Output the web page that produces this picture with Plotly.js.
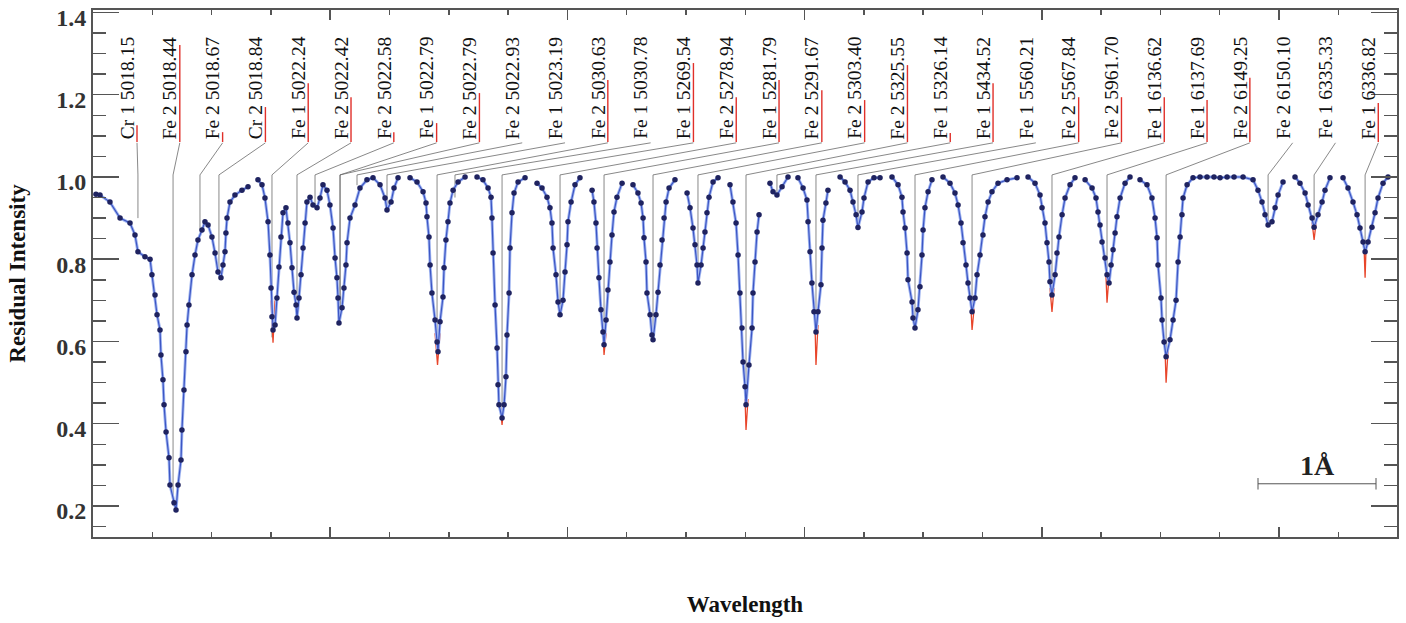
<!DOCTYPE html>
<html><head><meta charset="utf-8">
<script src="https://cdn.plot.ly/plotly-3.0.1.min.js"></script>
<style>html,body{margin:0;padding:0;background:#fff}#chart{width:1406px;height:623px}</style>
</head><body><div id="chart"></div>
<script>
// ---- Observed spectrum segments (x = wavelength offset along the concatenated spectrum, in Å; y = residual intensity)
const seg1X = [0.025,0.059,0.143,0.228,0.312,0.354,0.379,0.438,0.481,0.497,0.523,0.540,0.565,0.573,0.590,0.599,0.616,0.641,0.649,0.683,0.700,0.717,0.742,0.750,0.767,0.784,0.793,0.809,0.835,0.860,0.885,0.919,0.944,0.970,1.003,1.029,1.054,1.079,1.096,1.113,1.121,1.130,1.155,1.197,1.256,1.307];
const seg1Y = [0.958,0.956,0.939,0.900,0.888,0.859,0.818,0.806,0.800,0.762,0.713,0.665,0.628,0.567,0.507,0.446,0.380,0.317,0.251,0.208,0.190,0.251,0.312,0.385,0.482,0.575,0.640,0.689,0.762,0.810,0.847,0.871,0.891,0.883,0.854,0.815,0.769,0.755,0.786,0.818,0.864,0.900,0.939,0.956,0.968,0.976];
const seg2X = [1.391,1.425,1.450,1.476,1.492,1.501,1.509,1.518,1.535,1.551,1.568,1.585,1.602,1.627,1.644,1.661,1.678,1.695,1.712,1.720,1.737,1.754,1.771,1.788,1.804,1.830,1.855,1.889,1.914,1.939,1.973,1.998,2.024,2.041,2.057,2.066,2.074,2.100,2.116,2.133,2.142,2.167,2.209,2.251,2.310,2.361,2.420,2.462,2.479,2.513,2.538,2.572];
const seg2Y = [0.993,0.981,0.949,0.891,0.810,0.730,0.660,0.628,0.640,0.706,0.781,0.854,0.913,0.925,0.888,0.840,0.779,0.720,0.689,0.657,0.706,0.762,0.827,0.888,0.939,0.951,0.932,0.925,0.949,0.981,0.968,0.932,0.876,0.803,0.755,0.706,0.645,0.682,0.730,0.786,0.840,0.900,0.932,0.973,0.993,0.998,0.981,0.949,0.920,0.939,0.973,0.998];
const seg3X = [2.673,2.732,2.783,2.808,2.816,2.833,2.842,2.858,2.884,2.901,2.909,2.926,2.951,2.960,2.976,2.993,3.010,3.036,3.078,3.137];
const seg3Y = [0.998,0.988,0.964,0.937,0.903,0.854,0.786,0.718,0.652,0.599,0.575,0.648,0.708,0.779,0.847,0.891,0.937,0.968,0.988,1.000];
const seg4X = [3.238,3.288,3.331,3.356,3.364,3.373,3.390,3.407,3.415,3.423,3.449,3.466,3.482,3.491,3.508,3.516,3.533,3.550,3.584,3.643];
const seg4Y = [1.000,0.993,0.973,0.951,0.900,0.815,0.689,0.584,0.495,0.446,0.414,0.446,0.514,0.616,0.718,0.827,0.913,0.961,0.988,0.998];
const seg5X = [3.744,3.786,3.828,3.853,3.870,3.879,3.904,3.921,3.938,3.963,3.980,3.997,4.005,4.031,4.064,4.106];
const seg5Y = [0.985,0.973,0.951,0.925,0.888,0.827,0.762,0.696,0.665,0.700,0.769,0.835,0.891,0.939,0.981,0.998];
const seg6X = [4.208,4.224,4.241,4.250,4.266,4.283,4.300,4.309,4.326,4.342,4.359,4.376,4.393,4.418,4.461];
const seg6Y = [0.968,0.939,0.888,0.827,0.755,0.677,0.623,0.592,0.652,0.725,0.793,0.859,0.915,0.951,0.985];
const seg7X = [4.553,4.595,4.621,4.638,4.646,4.663,4.671,4.697,4.713,4.722,4.747,4.764,4.781,4.798,4.815,4.832,4.857,4.907];
const seg7Y = [0.981,0.961,0.937,0.900,0.852,0.793,0.718,0.665,0.616,0.604,0.665,0.720,0.786,0.847,0.900,0.939,0.973,0.993];
const seg8X = [5.009,5.034,5.059,5.076,5.093,5.101,5.127,5.144,5.160,5.177,5.194,5.228,5.270];
const seg8Y = [0.961,0.925,0.876,0.835,0.786,0.742,0.786,0.827,0.866,0.913,0.951,0.988,0.998];
const seg9X = [5.371,5.396,5.422,5.439,5.455,5.472,5.481,5.498,5.506,5.531,5.557,5.565,5.582,5.599,5.616];
const seg9Y = [0.981,0.939,0.888,0.810,0.718,0.633,0.550,0.490,0.446,0.543,0.633,0.718,0.793,0.866,0.908];
const seg10X = [5.708,5.734,5.767,5.810,5.860];
const seg10Y = [0.985,0.964,0.956,0.976,1.000];
const seg11X = [5.944,5.987,6.020,6.029,6.046,6.062,6.079,6.096,6.113,6.138,6.147,6.155,6.180,6.197];
const seg11Y = [0.998,0.973,0.944,0.891,0.818,0.742,0.672,0.623,0.672,0.738,0.827,0.895,0.937,0.968];
const seg12X = [6.299,6.341,6.383,6.408,6.434,6.450,6.484,6.501,6.535,6.585,6.636];
const seg12Y = [1.000,0.988,0.968,0.939,0.908,0.877,0.915,0.949,0.988,0.998,0.998];
const seg13X = [6.737,6.788,6.821,6.830,6.847,6.864,6.872,6.906,6.914,6.931,6.956,6.973,6.990,6.999,7.015,7.041,7.074];
const seg13Y = [1.000,0.981,0.951,0.915,0.876,0.815,0.750,0.696,0.657,0.633,0.677,0.733,0.810,0.871,0.925,0.964,0.993];
const seg14X = [7.167,7.226,7.268,7.294,7.319,7.336,7.361,7.378,7.395,7.412,7.437,7.454,7.479,7.504,7.521,7.547,7.580,7.631,7.707,7.791];
const seg14Y = [1.000,0.985,0.961,0.932,0.888,0.840,0.786,0.742,0.706,0.672,0.706,0.762,0.810,0.859,0.903,0.939,0.964,0.985,0.993,0.998];
const seg15X = [7.884,7.943,7.985,8.002,8.027,8.044,8.061,8.069,8.086,8.112,8.128,8.145,8.171,8.196,8.238,8.280];
const seg15Y = [1.000,0.985,0.956,0.925,0.888,0.840,0.793,0.745,0.713,0.762,0.815,0.854,0.908,0.949,0.981,0.998];
const seg16X = [8.365,8.424,8.457,8.474,8.491,8.508,8.533,8.550,8.567,8.584,8.601,8.618,8.634,8.660,8.702,8.744];
const seg16Y = [0.993,0.973,0.949,0.915,0.883,0.842,0.803,0.762,0.742,0.786,0.823,0.864,0.903,0.949,0.985,1.000];
const seg17X = [8.828,8.887,8.929,8.955,8.972,8.980,9.005,9.014,9.031,9.048,9.081,9.107,9.132,9.149,9.166,9.182,9.191,9.225,9.275,9.334,9.393,9.452,9.503,9.562,9.621,9.697,9.781,9.823,9.857,9.882,9.908,9.941,9.967,9.992,10.034];
const seg17Y = [0.993,0.981,0.949,0.900,0.852,0.786,0.706,0.652,0.599,0.563,0.604,0.652,0.700,0.793,0.854,0.908,0.949,0.981,0.998,1.000,1.000,1.000,0.998,1.000,1.000,1.000,0.993,0.968,0.939,0.908,0.883,0.891,0.925,0.956,0.988];
const seg18X = [10.135,10.177,10.220,10.245,10.279,10.296,10.329,10.363,10.388,10.430];
const seg18Y = [1.000,0.985,0.961,0.932,0.900,0.878,0.908,0.939,0.968,0.998];
const seg19X = [10.540,10.582,10.624,10.658,10.683,10.709,10.726,10.751,10.784,10.810,10.835,10.877,10.919];
const seg19Y = [0.998,0.973,0.939,0.908,0.876,0.842,0.818,0.842,0.878,0.913,0.949,0.985,1.000];

// ---- Synthetic (red) profile cores that dip below the fitted profile
const redCoreX = [1.501,1.518,1.535,null,2.884,2.905,2.926,null,3.432,3.449,3.466,null,4.300,4.309,4.326,null,5.498,5.506,5.523,null,6.088,6.096,6.113,null,7.403,7.412,7.429,null,8.069,8.086,8.103,null,8.541,8.550,8.567,null,9.039,9.048,9.065,null,10.279,10.296,10.313,null,10.717,10.726,10.734];
const redCoreY = [0.700,0.597,0.700,null,0.620,0.543,0.620,null,0.450,0.397,0.450,null,0.620,0.567,0.620,null,0.460,0.385,0.460,null,0.640,0.543,0.640,null,0.680,0.628,0.680,null,0.730,0.672,0.730,null,0.760,0.694,0.760,null,0.580,0.500,0.580,null,0.890,0.847,0.890,null,0.830,0.755,0.830];

// ---- Line identifications
const lineLabels = ["Cr 1 5018.15","Fe 2 5018.44","Fe 2 5018.67","Cr 2 5018.84","Fe 1 5022.24","Fe 2 5022.42","Fe 2 5022.58","Fe 1 5022.79","Fe 2 5022.79","Fe 2 5022.93","Fe 1 5023.19","Fe 2 5030.63","Fe 1 5030.78","Fe 1 5269.54","Fe 2 5278.94","Fe 1 5281.79","Fe 2 5291.67","Fe 2 5303.40","Fe 2 5325.55","Fe 1 5326.14","Fe 1 5434.52","Fe 1 5560.21","Fe 2 5567.84","Fe 2 5961.70","Fe 1 6136.62","Fe 1 6137.69","Fe 2 6149.25","Fe 2 6150.10","Fe 1 6335.33","Fe 1 6336.82"];
const lineX = [0.379,0.675,0.902,1.062,1.509,1.720,1.872,2.083,2.083,2.226,2.479,2.901,3.052,3.449,3.938,4.309,4.722,5.101,5.506,5.767,6.096,6.450,6.931,7.412,8.086,8.550,9.048,9.908,10.296,10.726];
const lineDepth = [0.90,0.20,0.87,0.77,0.61,0.66,0.93,0.64,0.64,0.98,0.92,0.575,0.95,0.414,0.68,0.59,0.604,0.742,0.446,0.956,0.623,0.88,0.633,0.672,0.713,0.742,0.563,0.883,0.878,0.818];
const lineStrength = [1.126,1.321,1.109,1.170,1.228,1.194,1.109,1.131,1.204,null,null,1.236,null,1.277,1.194,1.236,1.211,1.187,1.272,1.107,1.228,null,1.194,1.194,1.194,1.187,1.241,null,null,1.180];

// ---- Scale bar (1 Å)
const scaleBarX = [9.823,10.818];
const scaleBarY = [0.254,0.254];
const scaleBarText = "1Å";

// build spectrum with gaps between segments
const segsX = [seg1X,seg2X,seg3X,seg4X,seg5X,seg6X,seg7X,seg8X,seg9X,seg10X,seg11X,seg12X,seg13X,seg14X,seg15X,seg16X,seg17X,seg18X,seg19X];
const segsY = [seg1Y,seg2Y,seg3Y,seg4Y,seg5Y,seg6Y,seg7Y,seg8Y,seg9Y,seg10Y,seg11Y,seg12Y,seg13Y,seg14Y,seg15Y,seg16Y,seg17Y,seg18Y,seg19Y];
const specX = [], specY = [];
segsX.forEach((sx,i)=>{ if(i){specX.push(null);specY.push(null);} specX.push(...sx); specY.push(...segsY[i]); });

// label layout: evenly spaced columns
const labX0 = 0.287, labStep = 0.3609, labOff = 0.084;
const labelX = lineLabels.map((_,i)=>labX0 + i*labStep);
const connX = [], connY = [], barX = [], barY = [];
lineLabels.forEach((_,i)=>{
  connX.push(labelX[i]+labOff, lineX[i], lineX[i], null);
  connY.push(1.083, 1.005, lineDepth[i], null);
  if(lineStrength[i]!==null){ barX.push(labelX[i]+labOff, labelX[i]+labOff, null); barY.push(1.085, lineStrength[i], null); }
});
const capH = 0.014;
const sbX = [scaleBarX[0],scaleBarX[0],null,scaleBarX[0],scaleBarX[1],null,scaleBarX[1],scaleBarX[1]];
const sbY = [scaleBarY[0]-capH,scaleBarY[0]+capH,null,scaleBarY[0],scaleBarY[1],null,scaleBarY[1]-capH,scaleBarY[1]+capH];

const serif = "Liberation Serif, Times New Roman, serif";
const traces = [
  {x:connX,y:connY,mode:'lines',line:{color:'#6a6a6a',width:0.8},hoverinfo:'skip'},
  {x:barX,y:barY,mode:'lines',line:{color:'#e0302a',width:1.4},hoverinfo:'skip'},
  {x:redCoreX,y:redCoreY,mode:'lines',line:{color:'#e8452a',width:1.3},hoverinfo:'skip'},
  {x:specX,y:specY,mode:'lines',line:{color:'#9fb4f0',width:3},hoverinfo:'skip'},
  {x:specX,y:specY,mode:'lines+markers',line:{color:'#3d56c4',width:1.2},marker:{color:'#1f2360',size:5.5}},
  {x:sbX,y:sbY,mode:'lines',line:{color:'#555',width:1},hoverinfo:'skip'}
];

const annotations = lineLabels.map((t,i)=>({
  x:labelX[i], y:1.087, xref:'x', yref:'y', text:t, showarrow:false, textangle:-90,
  xanchor:'center', yanchor:'bottom', font:{family:serif,size:19.5,color:'#111'}
}));
annotations.push({x:(scaleBarX[0]+scaleBarX[1])/2, y:scaleBarY[0]+0.003, xref:'x', yref:'y', text:scaleBarText, showarrow:false, xanchor:'center', yanchor:'bottom', font:{family:serif,size:28,color:'#222',weight:'bold'}});

const layout = {
  width:1406, height:623,
  margin:{l:93,r:9,t:10,b:86},
  paper_bgcolor:'#fff', plot_bgcolor:'#fff',
  showlegend:false,
  font:{family:serif,color:'#222'},
  xaxis:{range:[0,10.995],showgrid:false,zeroline:false,showticklabels:false,
    ticks:'inside',dtick:2,tick0:0,ticklen:10,tickwidth:1.5,tickcolor:'#555',
    minor:{dtick:0.5,ticklen:5,tickcolor:'#555',ticks:'inside',showgrid:false},
    showline:true,linecolor:'#555',linewidth:2,mirror:'ticks',
    title:{text:'Wavelength',font:{family:serif,size:23,color:'#111',weight:'bold'},standoff:58}},
  yaxis:{range:[0.1246,1.406],showgrid:false,zeroline:false,
    ticks:'inside',dtick:0.2,tick0:0,ticklen:26,tickwidth:1.5,tickcolor:'#555',tickformat:'.1f',
    minor:{dtick:0.05,ticklen:13,tickcolor:'#555',ticks:'inside',showgrid:false},
    showline:true,linecolor:'#555',linewidth:2,mirror:'ticks',
    ticklabeloverflow:'allow',ticklabelshift:5,
    tickfont:{family:serif,size:24,color:'#333',weight:'bold'},
    title:{text:'Residual Intensity',font:{family:serif,size:23,color:'#111',weight:'bold'},standoff:24}},
  annotations:annotations
};
Plotly.newPlot('chart',traces,layout,{displayModeBar:false,staticPlot:true});
</script></body></html>
